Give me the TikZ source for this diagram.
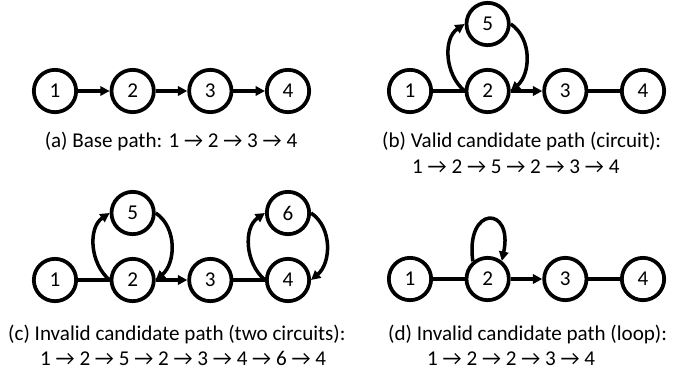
\documentclass[tikz,border=0pt]{standalone}
\usepackage{fontspec}
\setmainfont{Carlito}
\usepackage{tikz}
\usetikzlibrary{positioning,arrows.meta}

\begin{document}
\begin{tikzpicture}[on grid, node distance=2.33cm,
    vtx/.style={draw, circle, line width=3.2pt, minimum size=1.27cm, inner sep=0pt,
                font=\fontsize{18}{21}\selectfont},
    edge/.style={line width=3pt},
    arr/.style={edge, -{Triangle[length=0.28cm, width=0.28cm]}},
    captxt/.style={font=\fontsize{18}{21}\selectfont, inner sep=0pt}]
  \useasboundingbox (0,0) rectangle (20.49,-11.25);

  % (a) base path
  \node[vtx] (a1) at (1.65,-2.73) {1};
  \node[vtx, right=of a1] (a2) {2};
  \node[vtx, right=of a2] (a3) {3};
  \node[vtx, right=of a3] (a4) {4};
  \draw[arr] (a1) -- (a2);
  \draw[arr] (a2) -- (a3);
  \draw[arr] (a3) -- (a4);
  \node[captxt, anchor=base] (capa) at (5.13,-4.41)
    {(a) Base path: 1 → 2 → 3 → 4};

  % (b) one circuit through 5
  \node[vtx] (b1) at (12.3,-2.73) {1};
  \node[vtx, right=of b1] (b2) {2};
  \node[vtx, right=of b2] (b3) {3};
  \node[vtx, right=of b3] (b4) {4};
  \node[vtx, above=2.01cm of b2] (b5) {5};
  \draw[edge] (b1) -- (b2);
  \draw[arr] (b2.west) to[out=140, in=214] (b5.west);
  \draw[arr] (b5.east) to[out=-34, in=40] (b2.east);
  \draw[arr] (b2) -- (b3);
  \draw[edge] (b3) -- (b4);
  \node[captxt, anchor=base west] (capb) at (11.46,-4.41)
    {(b) Valid candidate path (circuit):};
  \node[captxt, anchor=base west] (capbb) at (12.36,-5.19)
    {1 → 2 → 5 → 2 → 3 → 4};

  % (c) two circuits
  \node[vtx] (c1) at (1.65,-8.4) {1};
  \node[vtx, right=of c1] (c2) {2};
  \node[vtx, right=of c2] (c3) {3};
  \node[vtx, right=of c3] (c4) {4};
  \node[vtx, above=2.01cm of c2] (c5) {5};
  \node[vtx, above=2.01cm of c4] (c6) {6};
  \draw[edge] (c1) -- (c2);
  \draw[arr] (c2.west) to[out=140, in=214] (c5.west);
  \draw[arr] (c5.east) to[out=-34, in=40] (c2.east);
  \draw[arr] (c2) -- (c3);
  \draw[edge] (c3) -- (c4);
  \draw[arr] (c4.west) to[out=140, in=214] (c6.west);
  \draw[arr] (c6.east) to[out=-34, in=40] (c4.east);
  \node[captxt, anchor=base west] (capc) at (0.24,-10.2)
    {(c) Invalid candidate path (two circuits):};
  \node[captxt, anchor=base west] (capcc) at (1.2,-10.95)
    {1 → 2 → 5 → 2 → 3 → 4 → 6 → 4};

  % (d) self loop on 2
  \node[vtx] (d1) at (12.3,-8.37) {1};
  \node[vtx, right=of d1] (d2) {2};
  \node[vtx, right=of d2] (d3) {3};
  \node[vtx, right=of d3] (d4) {4};
  \draw[edge] (d1) -- (d2);
  \draw[arr] (d2.130) to[out=98, in=78, looseness=5] (d2.52);
  \draw[arr] (d2) -- (d3);
  \draw[edge] (d3) -- (d4);
  \node[captxt, anchor=base west] (capd) at (11.64,-10.2)
    {(d) Invalid candidate path (loop):};
  \node[captxt, anchor=base west] (capdd) at (12.81,-10.95)
    {1 → 2 → 2 → 3 → 4};
\end{tikzpicture}
\end{document}
